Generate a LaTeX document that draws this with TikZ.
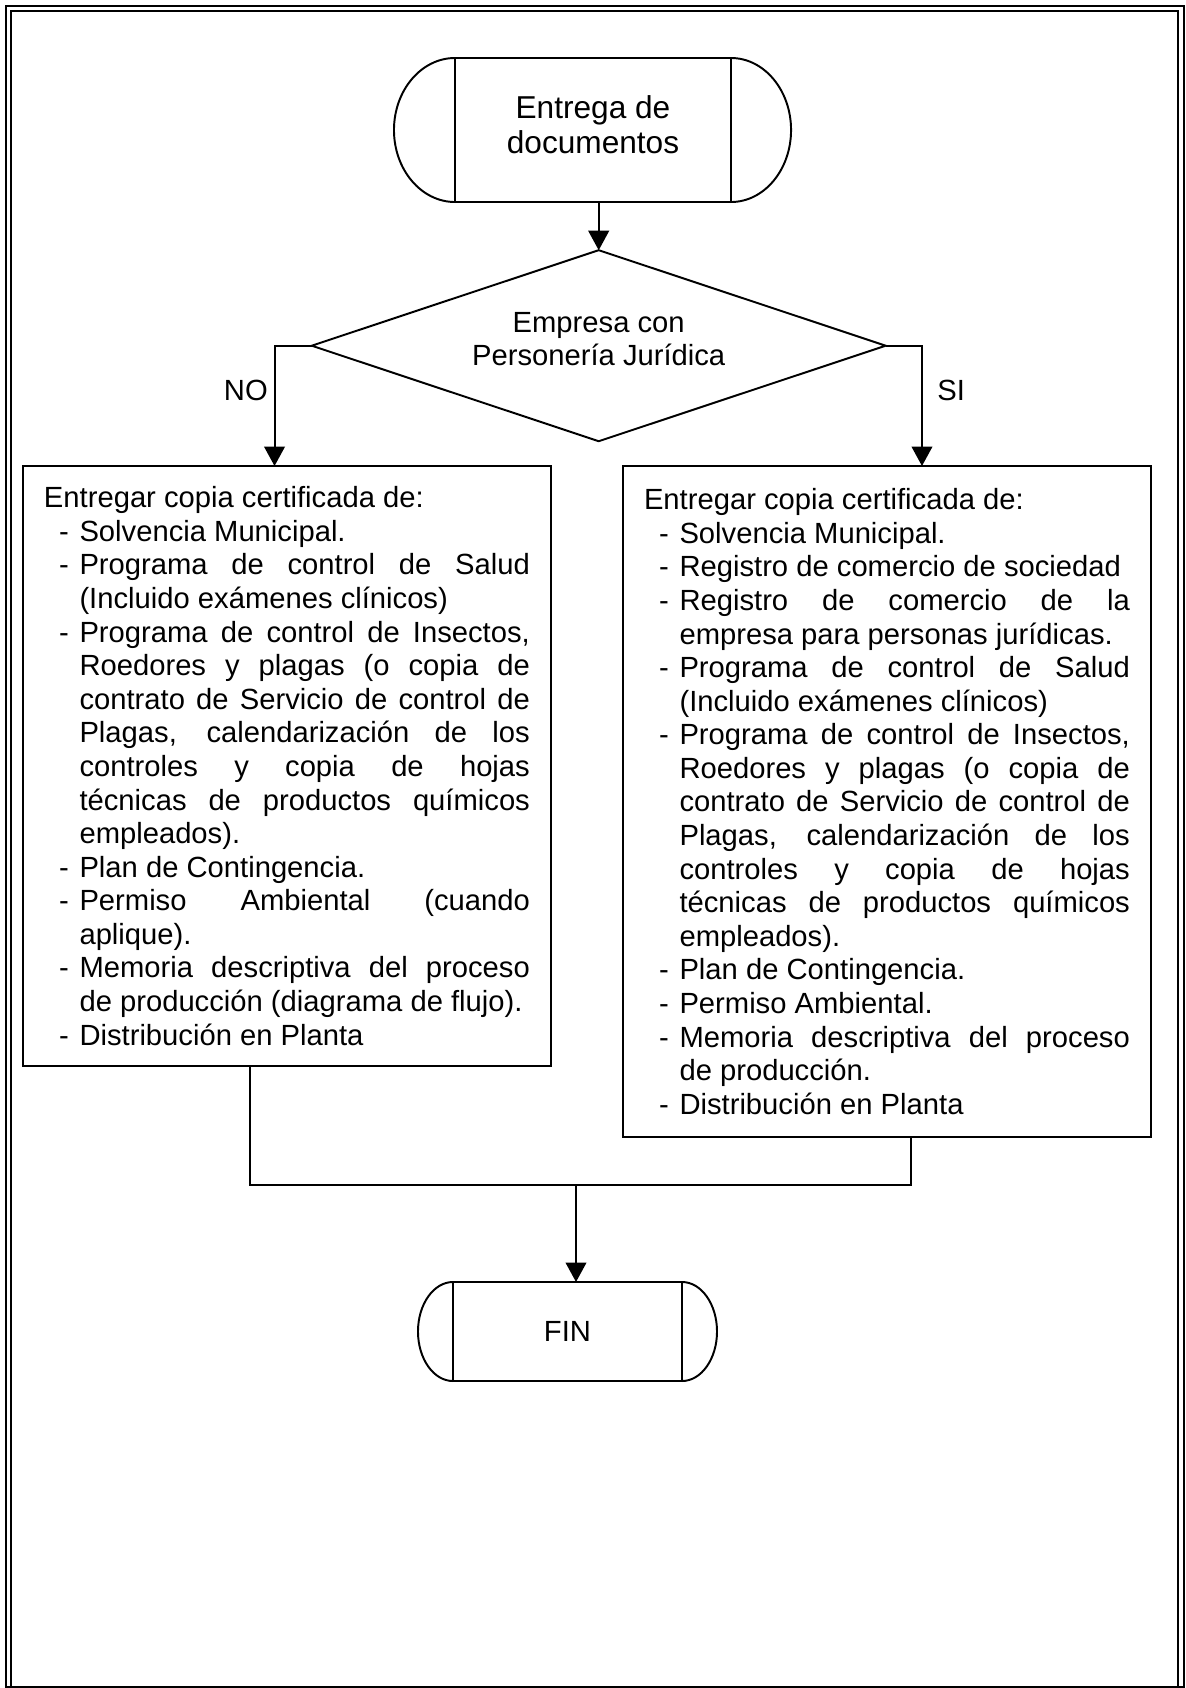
\documentclass[tikz,border=0pt]{standalone}
\usepackage{fontspec}
\setmainfont{Liberation Sans}
\usetikzlibrary{shapes.geometric,arrows.meta,positioning}

% item with hanging dash
\newcommand{\guion}{\par\noindent\hangindent=14.6pt\hangafter=0\llap{-\hspace{4.4pt}}}

\begin{document}
\begin{tikzpicture}[
  x=0.411pt, y=0.411pt,
  >={Triangle[length=8pt,width=8.5pt]},
  line width=0.8pt,
  every node/.style={font=\fontsize{12}{13.8}\selectfont, outer sep=0pt},
  term/.style={draw, rectangle, align=center, inner sep=0pt},
  decision/.style={draw, diamond, aspect=3, inner sep=0pt, align=center,
    minimum width=235.9pt, minimum height=78.5pt, text depth=5.4pt},
  docbox/.style={draw, rectangle, anchor=north west, text width=199.7pt,
    inner xsep=8.63pt, inner ysep=0pt, align=justify,
    execute at begin node={\tolerance=10000\hyphenpenalty=10000}}
]
  \useasboundingbox (0,0) rectangle (1186,-1688);

  % page frame
  \draw[line width=0.9pt] (6,-6) rectangle (1184,-1687);
  \draw[line width=0.9pt] (11,-11) rectangle (1178,-1700);

  \node[term, minimum width=113.4pt, minimum height=59.2pt, text depth=4.8pt,
    font=\fontsize{13}{14.4}\selectfont] (nIni) at (593,-130) {Entrega de\\documentos};
  \draw (nIni.north west) arc[start angle=90, end angle=270, x radius=25.1pt, y radius=29.6pt];
  \draw (nIni.north east) arc[start angle=90, end angle=-90, x radius=24.7pt, y radius=29.6pt];

  \node[decision] (nDec) at (598.7,-345.7) {Empresa con\\Personería Jurídica};

  \node[docbox, minimum height=246.6pt] (nNo) at (23,-466) {%
    \noindent Entregar copia certificada de:
    \guion Solvencia Municipal.
    \guion Programa de control de Salud\linebreak (Incluido exámenes clínicos)
    \guion Programa de control de Insectos,\linebreak Roedores y plagas (o copia de\linebreak
      contrato de Servicio de control de\linebreak Plagas, calendarización de los\linebreak
      controles y copia de hojas\linebreak técnicas de productos químicos\linebreak empleados).
    \guion Plan de Contingencia.
    \guion Permiso Ambiental (cuando\linebreak aplique).
    \guion Memoria descriptiva del proceso\linebreak de producción (diagrama de flujo).
    \guion Distribución en Planta\par};

  \node[docbox, minimum height=275.8pt] (nSi) at (623,-466) {%
    \noindent Entregar copia certificada de:
    \guion Solvencia Municipal.
    \guion Registro de comercio de sociedad
    \guion Registro de comercio de la\linebreak empresa para personas jurídicas.
    \guion Programa de control de Salud\linebreak (Incluido exámenes clínicos)
    \guion Programa de control de Insectos,\linebreak Roedores y plagas (o copia de\linebreak
      contrato de Servicio de control de\linebreak Plagas, calendarización de los\linebreak
      controles y copia de hojas\linebreak técnicas de productos químicos\linebreak empleados).
    \guion Plan de Contingencia.
    \guion Permiso Ambiental.
    \guion Memoria descriptiva del proceso\linebreak de producción.
    \guion Distribución en Planta\par};

  \node[term, minimum width=94.1pt, minimum height=40.7pt] (nFin) at (567.5,-1331.5) {FIN};
  \draw (nFin.north west) arc[start angle=90, end angle=270, x radius=14.4pt, y radius=20.35pt];
  \draw (nFin.north east) arc[start angle=90, end angle=-90, x radius=14.4pt, y radius=20.35pt];

  \coordinate (cUnion) at (576,-1185);

  \draw[->] (nIni.south -| nDec.north) -- (nDec.north);
  \draw[->] (nDec.west) -| node[pos=0.684, left, inner sep=2.8pt] {NO} ([xshift=-5.1pt]nNo.north);
  \draw[->] (nDec.east) -| node[pos=0.684, right=3pt] {SI} ([xshift=14.4pt]nSi.north);
  \draw ([xshift=-15.2pt]nNo.south) |- (cUnion) -| ([xshift=9.9pt]nSi.south);
  \draw[->] (cUnion) -- (cUnion |- nFin.north);
\end{tikzpicture}
\end{document}
